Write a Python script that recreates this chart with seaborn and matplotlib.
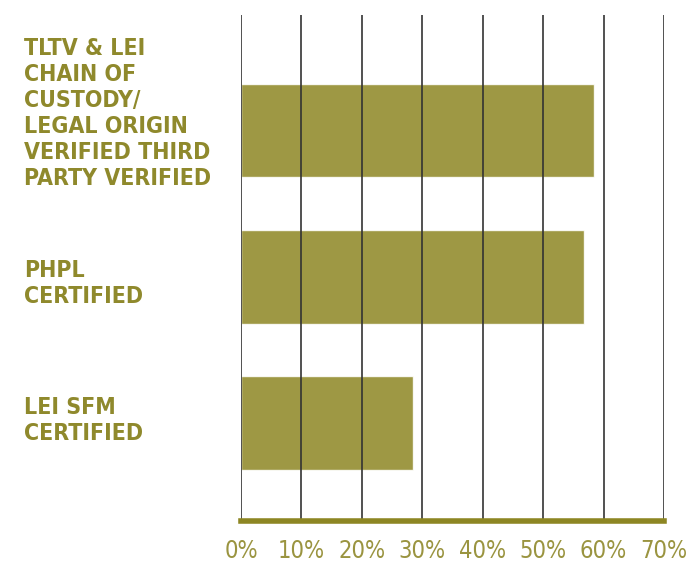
import matplotlib
matplotlib.use("Agg")
import matplotlib.pyplot as plt
import matplotlib.transforms as mtransforms
import seaborn as sns
import pandas as pd
from matplotlib import font_manager

categories = ["TLTV & LEI\nCHAIN OF\nCUSTODY/\nLEGAL ORIGIN\nVERIFIED THIRD\nPARTY VERIFIED",
              "PHPL\nCERTIFIED",
              "LEI SFM\nCERTIFIED"]
values = [58.4, 56.8, 28.5]
xticks = [0, 10, 20, 30, 40, 50, 60, 70]
xticklabels = ["0%", "10%", "20%", "30%", "40%", "50%", "60%", "70%"]

sns.set_theme(style="white")
plt.rcParams['font.family'] = ['DejaVu Sans']

# find a condensed bold font if available
cond_bold = None
cond_reg = None
for f in font_manager.fontManager.ttflist:
    st = str(f.stretch)
    if "condensed" in st.lower() and "extra" not in st.lower() and "ultra" not in st.lower():
        w = f.weight if isinstance(f.weight, int) else 400
        if f.style == "normal":
            if w >= 600 and cond_bold is None:
                cond_bold = f
            if 300 <= w <= 500 and cond_reg is None:
                cond_reg = f

if cond_bold is not None:
    label_fp = font_manager.FontProperties(fname=cond_bold.fname, size=16.6)
else:
    label_fp = font_manager.FontProperties(family="DejaVu Sans", weight="bold", size=15)
if cond_reg is not None:
    tick_fp = font_manager.FontProperties(fname=cond_reg.fname, size=17)
else:
    tick_fp = font_manager.FontProperties(family="Lato", weight="normal", size=17)

olive = "#8d8623"
text_col = "#8f892c"

df = pd.DataFrame({"cat": categories, "val": values})
fig = plt.figure(figsize=(6.9, 5.62), dpi=100)
ax = fig.add_axes([241/690, 1-521/562, (664-241)/690, (521-15)/562])
sns.barplot(data=df, x="val", y="cat", orient="h", color=olive, alpha=0.85,
            width=0.64, saturation=1, ax=ax, zorder=1)
ax.set_xlim(0, 70)
ax.set_ylim(2.67, -0.79)
ax.set_xticks(xticks)
ax.set_xticklabels(xticklabels, color="#9a9440", fontproperties=tick_fp, va="top")
ax.tick_params(axis="x", length=0, pad=13)
ax.set_yticks(range(len(categories)))
ax.set_yticklabels([])
ax.tick_params(axis="y", length=0)

label_offsets_px = [17, -6.5, 2.5]
trans = mtransforms.blended_transform_factory(ax.transAxes, ax.transData)
for i, cat in enumerate(categories):
    off = mtransforms.ScaledTranslation(0, label_offsets_px[i] / 100, fig.dpi_scale_trans)
    ax.text(-217/423, i, cat, transform=trans + off, ha="left", va="center",
            color=text_col, fontproperties=label_fp, linespacing=1.17)

ax.set_xlabel("")
ax.set_ylabel("")
for x in xticks:
    ax.axvline(x, color="#333333", lw=1.2, zorder=2)
for s in ["top", "right", "left"]:
    ax.spines[s].set_visible(False)
ax.spines["bottom"].set_color(olive)
ax.spines["bottom"].set_linewidth(4)
ax.spines["bottom"].set_zorder(3)
fig.savefig("out.png", dpi=100)
